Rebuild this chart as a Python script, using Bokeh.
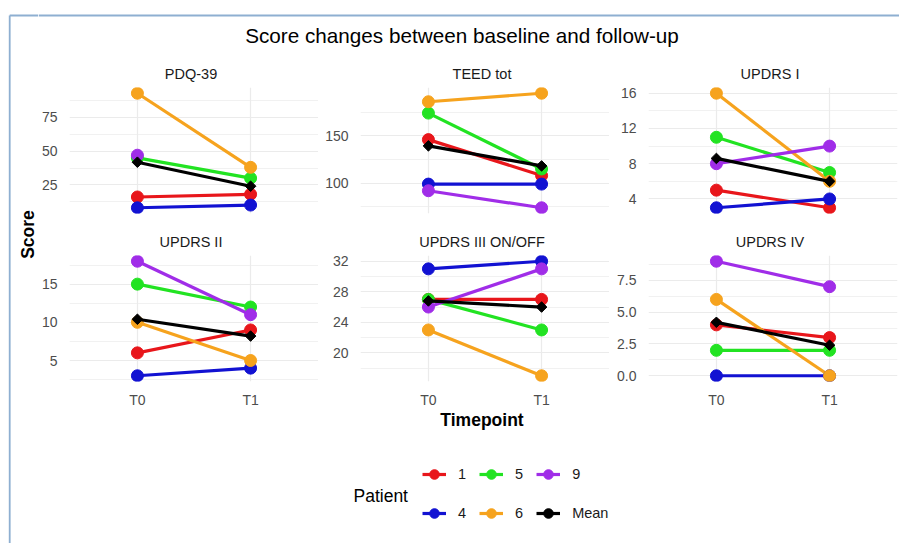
import numpy as np
from bokeh.plotting import figure
from bokeh.layouts import row, column
from bokeh.models import (Range1d, FixedTicker, Label, Legend, LegendItem,
                          ColumnDataSource, NumeralTickFormatter)
from bokeh.embed import file_html
from bokeh.resources import INLINE

nan = float("nan")

# ---------------- data ----------------
timepoints = ["T0", "T1"]
time_pos = [1, 2]
patients = ["1", "4", "5", "6", "9"]
patient_colors = ["#E8161B", "#1212D2", "#22E322", "#F6A31E", "#A02DE8"]
mean_label = "Mean"
mean_color = "#000000"

panel_names = ["PDQ-39", "TEED tot", "UPDRS I", "UPDRS II", "UPDRS III ON/OFF", "UPDRS IV"]

# values per patient (order of `patients`) at T0 and T1, and the mean line
pdq39_t0 = [16, 8, 45, 93, 47]
pdq39_t1 = [18, 10, 30, 38, nan]
pdq39_mean = [41.8, 24.0]

teed_t0 = [146, 99, 174, 186, 92]
teed_t1 = [108, 99, 115, 195, 74]
teed_mean = [139.4, 118.2]

updrs1_t0 = [5, 3, 11, 16, 8]
updrs1_t1 = [3, 4, 7, 6, 10]
updrs1_mean = [8.6, 6.0]

updrs2_t0 = [6, 3, 15, 10, 18]
updrs2_t1 = [9, 4, 12, 5, 11]
updrs2_mean = [10.4, 8.2]

updrs3_t0 = [27, 31, 27, 23, 26]
updrs3_t1 = [27, 32, 23, 17, 31]
updrs3_mean = [26.8, 26.0]

updrs4_t0 = [4, 0, 2, 6, 9]
updrs4_t1 = [3, 0, 2, 0, 7]
updrs4_mean = [4.2, 2.4]

# tick positions
pdq39_ticks, pdq39_minor = [25, 50, 75], [12.5, 37.5, 62.5, 87.5]
teed_ticks, teed_minor = [100, 150], [75, 125, 175]
updrs1_ticks, updrs1_minor = [4, 8, 12, 16], [6, 10, 14]
updrs2_ticks, updrs2_minor = [5, 10, 15], [2.5, 7.5, 12.5, 17.5]
updrs3_ticks, updrs3_minor = [20, 24, 28, 32], [18, 22, 26, 30]
updrs4_ticks, updrs4_minor = [0, 2.5, 5, 7.5], [1.25, 3.75, 6.25, 8.75]

title_text = "Score changes between baseline and follow-up"
y_title = "Score"
x_title = "Timepoint"
legend_title = "Patient"

# ---------------- style ----------------
FONT = "Liberation Sans"
GRID = "#EBEBEB"
TICK_COL = "#4D4D4D"
STRIP_COL = "#1A1A1A"
FRAME_COL = "#8EAFD1"
FW, FH = 249, 126
LW = 3.2
PT = 12
BASE_FIX = 0.32  # Bokeh's alphabetic baseline sits ~0.32em lower than requested

LEFTS = [28, 42, 39]
RIGHTS = [0, 0, 5]


def make_panel(t0, t1, mean, ticks, minor, col, top, bottom, show_x, fmt=None):
    vals = np.array(list(t0) + list(t1) + list(mean), dtype=float)
    lo, hi = np.nanmin(vals), np.nanmax(vals)
    pad = 0.05 * (hi - lo)
    p = figure(frame_width=FW, frame_height=FH,
               x_range=Range1d(0.4, 2.6), y_range=Range1d(lo - pad, hi + pad),
               min_border_left=LEFTS[col], min_border_right=RIGHTS[col],
               min_border_top=top, min_border_bottom=bottom,
               output_backend="svg", toolbar_location=None, title=None)
    p.outline_line_color = None
    p.background_fill_color = "white"
    p.border_fill_color = "white"

    p.xaxis.ticker = FixedTicker(ticks=time_pos)
    p.xaxis.major_label_overrides = {tp: lab for tp, lab in zip(time_pos, timepoints)}
    p.yaxis.ticker = FixedTicker(ticks=ticks, minor_ticks=minor)
    if fmt:
        p.yaxis.formatter = NumeralTickFormatter(format=fmt)
    for ax in (p.xaxis[0], p.yaxis[0]):
        ax.axis_line_color = None
        ax.major_tick_line_color = None
        ax.minor_tick_line_color = None
        ax.major_tick_out = 0
        ax.major_label_text_font = FONT
        ax.major_label_text_font_size = "14px"
        ax.major_label_text_color = TICK_COL
    p.yaxis.major_label_standoff = 8
    p.xaxis.major_label_standoff = 10
    p.xaxis.visible = show_x

    p.xgrid.grid_line_color = GRID
    p.xgrid.grid_line_width = 1.2
    p.ygrid.grid_line_color = GRID
    p.ygrid.grid_line_width = 1.2
    p.ygrid.minor_grid_line_color = GRID
    p.ygrid.minor_grid_line_width = 0.7

    for i in range(len(patients)):
        p.line(time_pos, [t0[i], t1[i]], line_color=patient_colors[i], line_width=LW)
    for i in range(len(patients)):
        p.scatter(time_pos, [t0[i], t1[i]], size=PT, fill_color=patient_colors[i],
                  line_color=patient_colors[i])
    p.line(time_pos, mean, line_color=mean_color, line_width=LW)
    p.scatter(time_pos, mean, marker="square", angle=np.pi / 4, size=7.5,
              fill_color=mean_color, line_color=mean_color)
    return p


def blank(w, h):
    p = figure(frame_width=w, frame_height=h, x_range=Range1d(0, w), y_range=Range1d(0, h),
               x_axis_type=None, y_axis_type=None, min_border=0,
               output_backend="svg", toolbar_location=None, title=None)
    p.outline_line_color = None
    p.xgrid.visible = False
    p.ygrid.visible = False
    p.background_fill_color = "white"
    p.border_fill_color = "white"
    return p


def txt(p, x, y, s, size, bold=False, color="#000000", vertical=False, align="center"):
    fix = BASE_FIX * size
    if vertical:
        x, ang = x - fix, np.pi / 2
    else:
        y, ang = y + fix, 0.0
    p.add_layout(Label(x=x, y=y, text=s, angle=ang, text_align=align,
                       text_baseline="alphabetic", text_font=FONT,
                       text_font_size=f"{size}px",
                       text_font_style=("bold" if bold else "normal"),
                       text_color=color))


# page geometry (page origin at top-left, no body margin)
LWID, TOTH = 38, 543
GW = 899 - LWID
centers = [(66 + 315) / 2 - LWID, (357 + 606) / 2 - LWID, (645 + 894) / 2 - LWID]

# panels
f1 = make_panel(pdq39_t0, pdq39_t1, pdq39_mean, pdq39_ticks, pdq39_minor, 0, 4, 14, False)
f2 = make_panel(teed_t0, teed_t1, teed_mean, teed_ticks, teed_minor, 1, 4, 14, False)
f3 = make_panel(updrs1_t0, updrs1_t1, updrs1_mean, updrs1_ticks, updrs1_minor, 2, 4, 14, False)
f4 = make_panel(updrs2_t0, updrs2_t1, updrs2_mean, updrs2_ticks, updrs2_minor, 0, 4, 29, True)
f5 = make_panel(updrs3_t0, updrs3_t1, updrs3_mean, updrs3_ticks, updrs3_minor, 1, 4, 29, True)
f6 = make_panel(updrs4_t0, updrs4_t1, updrs4_mean, updrs4_ticks, updrs4_minor, 2, 4, 29, True,
                fmt="0.0")

# strip label rows  (row 1: page y 60..83, row 2: page y 227..251)
S1H, S2H = 23, 24
s1 = blank(GW, S1H)
for c, nm in zip(centers, panel_names[:3]):
    txt(s1, c, S1H - (78.5 - 60), nm, 14.5, color=STRIP_COL)
s2 = blank(GW, S2H)
for c, nm in zip(centers, panel_names[3:]):
    txt(s2, c, S2H - (246 - 227), nm, 14.5, color=STRIP_COL)

# left strip: frame line + y title
left = blank(LWID, TOTH)
left.segment(x0=[9.2], y0=[0], x1=[9.2], y1=[TOTH - 15], line_color=FRAME_COL, line_width=1.8)
left.segment(x0=[9.2], y0=[TOTH - 15], x1=[LWID], y1=[TOTH - 15], line_color=FRAME_COL,
             line_width=1.8)
txt(left, 33.5, TOTH - 234, y_title, 17.5, bold=True, vertical=True)

# title strip
TH = 60
top = blank(GW, TH)
top.segment(x0=[0], y0=[TH - 15], x1=[GW], y1=[TH - 15], line_color=FRAME_COL, line_width=1.8)
txt(top, 461.5 - LWID, TH - 42, title_text, 20.7)

# x title + legend strip (page y 410..543)
LH = 133
leg = blank(GW, LH)
txt(leg, 481.5 - LWID, LH - (425 - 410), x_title, 17.5, bold=True)
txt(leg, 353 - LWID, TOTH - 501, legend_title, 17.5, align="left")
items = []
for lab, col, mk, sz in zip(patients + [mean_label], patient_colors + [mean_color],
                            ["circle"] * 6, [PT] * 6):
    src = ColumnDataSource(dict(x=[nan], y=[nan]))
    r1 = leg.line("x", "y", source=src, line_color=col, line_width=LW)
    r2 = leg.scatter("x", "y", source=src, marker=mk, size=sz, fill_color=col, line_color=col)
    items.append(LegendItem(label=lab, renderers=[r1, r2]))
legend = Legend(items=items, location=(422 - LWID, TOTH - 526), orientation="vertical", nrows=2,
                glyph_width=24, glyph_height=26, label_standoff=12, spacing=13,
                label_width=0, label_height=17, padding=0, margin=0,
                border_line_color=None, background_fill_alpha=0,
                label_text_font=FONT, label_text_font_size="14.5px",
                label_text_color=STRIP_COL)
leg.add_layout(legend)

layout = row(left, column(top, s1, row(f1, f2, f3), s2, row(f4, f5, f6), leg))

with open("out.html", "w") as fh:
    fh.write(file_html(layout, INLINE))
